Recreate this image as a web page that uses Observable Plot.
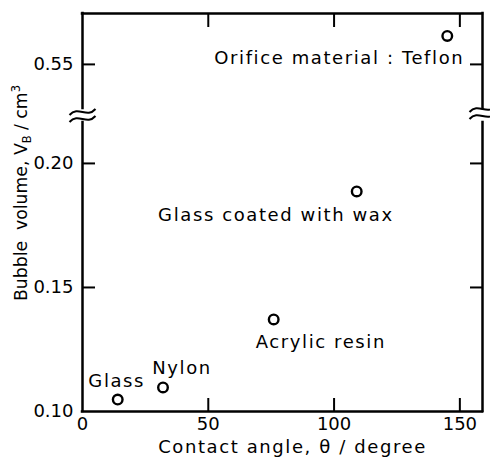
<!DOCTYPE html>
<html><head><meta charset="utf-8">
<script src="https://cdn.jsdelivr.net/npm/d3@7"></script>
<script src="https://cdn.jsdelivr.net/npm/@observablehq/plot@0.6"></script>
<style>
body{margin:0;background:#fff}
#chart{position:relative;width:490px;height:463px;background:#fff}
#chart svg{position:absolute;left:0;top:0;background:transparent}
</style>
</head><body><div id="chart"></div>
<script>
// ---- data ----
const materials = ["Glass", "Nylon", "Acrylic resin", "Glass coated with wax", "Orifice material : Teflon"];
const contactAngle = [14, 32, 76, 109, 145];
const bubbleVolume = [0.1048, 0.1097, 0.1371, 0.1887, 0.5613];
const xTicks = [0, 50, 100, 150];
const yTicksLower = [0.10, 0.15, 0.20];
const yTicksUpper = [0.55];
const xDomain = [0, 159];
const yDomainLower = [0.10, 0.2165];
const yDomainUpper = [0.5325, 0.5702];

const W = 490, H = 463;
const data = materials.map((m, i) => ({i, m, x: contactAngle[i], y: bubbleVolume[i]}));
const font = "DejaVu Sans";
const fs = 18;

const breakSymbol = {draw(ctx) {
  for (const o of [-3.5, 3.5]) {
    ctx.moveTo(-13, o + 3);
    ctx.bezierCurveTo(-4, o - 7, 4, o + 7, 13, o - 3);
  }
}};

const labelOffsets = [["middle", -1, -18], ["middle", 19, -19], ["start", -18, 23], ["end", 37, 24], ["end", 17, 22]];
const labelMarks = (rows) => rows.map(d => {
  const [a, dx, dy] = labelOffsets[d.i];
  return Plot.text([d], {x: "x", y: "y", text: "m", textAnchor: a, dx, dy, fontSize: fs});
});

const tickOpts = {tickFormat: () => "", strokeWidth: 2, label: null, tickSize: 13};
const frameOpts = {strokeWidth: 2.5, strokeLinecap: "square"};
const style = {fontFamily: font, fontSize: fs + "px", color: "black", background: "transparent"};
const dotOpts = {x: "x", y: "y", r: 4.8, stroke: "black", strokeWidth: 2.4, fill: "white"};

// lower panel (0.10 – 0.2165)
const lowerRows = data.filter(d => d.y <= yDomainLower[1]);
const lower = Plot.plot({
  width: W, height: H,
  marginLeft: 82, marginRight: 8, marginTop: 122, marginBottom: 52,
  style,
  x: {domain: xDomain},
  y: {domain: yDomainLower},
  marks: [
    Plot.ruleY([yDomainLower[0]], frameOpts),
    Plot.ruleX(xDomain, {y1: yDomainLower[0], y2: yDomainLower[1], ...frameOpts}),
    Plot.dot(xDomain.slice(0, 1), {x: d => d, y: yDomainLower[1], dy: -7, symbol: breakSymbol, fill: "none", stroke: "black", strokeWidth: 2}),
    Plot.dot(xDomain.slice(1), {x: d => d, y: yDomainLower[1], dy: -10, symbol: breakSymbol, fill: "none", stroke: "black", strokeWidth: 2}),
    Plot.axisX(xTicks, {anchor: "bottom", tickSize: 0, tickPadding: 6, fontSize: fs, label: null}),
    Plot.axisY(yTicksLower, {anchor: "left", tickSize: 0, tickPadding: 9, fontSize: fs, tickFormat: d3.format(".2f"), label: null}),
    Plot.axisX(xTicks.slice(1), {anchor: "bottom", dy: -13, ...tickOpts}),
    Plot.axisY(yTicksLower.slice(1), {anchor: "left", dx: 13, ...tickOpts}),
    Plot.axisY(yTicksLower.slice(1), {anchor: "right", dx: -13, ...tickOpts}),
    Plot.dot(lowerRows, dotOpts),
    ...labelMarks(lowerRows),
    Plot.text(["Contact angle, θ / degree"], {frameAnchor: "bottom", textAnchor: "middle", dx: 10, dy: 41, fontSize: fs}),
    Plot.text(["Bubble volume, VB / cm3"], {frameAnchor: "left", textAnchor: "middle", rotate: -90, dx: -61, dy: -74, fontSize: fs})
  ]
});

// upper panel (0.5325 – 0.5702)
const upperRows = data.filter(d => d.y >= yDomainUpper[0]);
const upper = Plot.plot({
  width: W, height: H,
  marginLeft: 82, marginRight: 8, marginTop: 13, marginBottom: H - 108,
  style,
  x: {domain: xDomain},
  y: {domain: yDomainUpper},
  marks: [
    Plot.ruleY([yDomainUpper[1]], frameOpts),
    Plot.ruleX(xDomain, {y1: yDomainUpper[0], y2: yDomainUpper[1], ...frameOpts}),
    Plot.axisY(yTicksUpper, {anchor: "left", tickSize: 0, tickPadding: 9, fontSize: fs, tickFormat: d3.format(".2f"), label: null}),
    Plot.axisX(xTicks.slice(1), {anchor: "top", dy: 13, ...tickOpts}),
    Plot.axisY(yTicksUpper, {anchor: "left", dx: 13, ...tickOpts}),
    Plot.axisY(yTicksUpper, {anchor: "right", dx: -13, ...tickOpts}),
    Plot.dot(upperRows, dotOpts),
    ...labelMarks(upperRows)
  ]
});

for (const svg of [lower, upper]) {
  d3.select(svg).selectAll('g[aria-label="text"] text').style("letter-spacing", "1.6px");
}
d3.select(lower).selectAll("text").each(function() {
  if (this.textContent === "Bubble volume, VB / cm3") {
    this.innerHTML = 'Bubble  volume, V<tspan dy="4" font-size="12">B</tspan><tspan dy="-4"> / cm</tspan><tspan dy="-7" font-size="12">3</tspan>';
    this.style.letterSpacing = "0px";
    this.style.whiteSpace = "pre";
    this.setAttribute("textLength", 216);
    this.setAttribute("lengthAdjust", "spacingAndGlyphs");
  }
});
const host = document.getElementById("chart");
host.appendChild(lower);
host.appendChild(upper);
</script>
</body></html>
